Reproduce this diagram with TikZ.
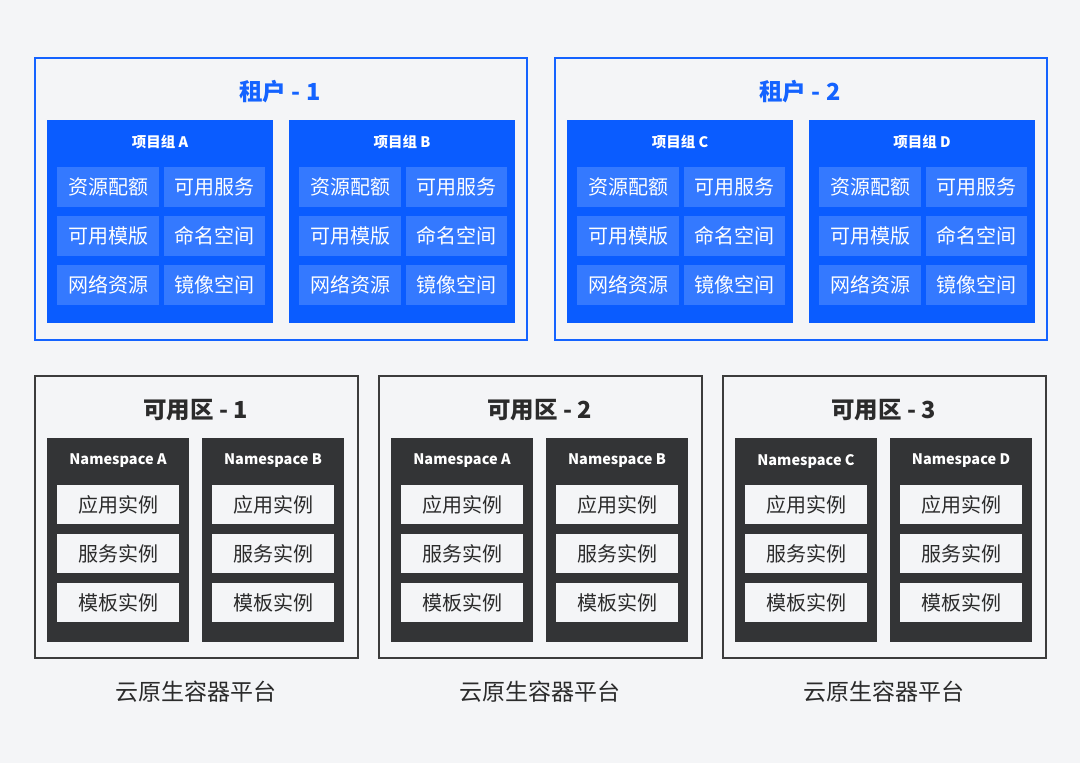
\documentclass[tikz,border=0pt]{standalone}
\usepackage{fontspec}
\setmainfont{Noto Sans CJK SC}
\usetikzlibrary{positioning}
\definecolor{pagebg}{HTML}{F4F5F7}
\definecolor{tenantblue}{HTML}{1463FF}
\definecolor{groupblue}{HTML}{0A5CFF}
\definecolor{cellblue}{HTML}{3479FF}
\definecolor{zonegray}{HTML}{3C3C3C}
\definecolor{nsdark}{HTML}{333436}
\definecolor{textdark}{HTML}{2B2B2B}
\tikzset{
  outer/.style   = {draw, line width=1.6pt, fill=pagebg, anchor=north west,
                    inner sep=0pt, minimum width=492pt, minimum height=282pt},
  tenant/.style  = {outer, draw=tenantblue},
  zone/.style    = {outer, draw=zonegray, minimum width=323pt},
  bigtitle/.style = {font=\fontsize{23.5}{23.5}\selectfont\bfseries},
  grp/.style     = {fill=groupblue, anchor=north west, inner sep=0pt,
                    minimum width=226pt, minimum height=203pt},
  ns/.style      = {fill=nsdark, anchor=north west, inner sep=0pt,
                    minimum width=142pt, minimum height=204pt},
  smalltitle/.style = {text=white, font=\fontsize{14.5}{14.5}\selectfont\bfseries},
  bluecell/.style = {fill=cellblue, text=white, anchor=north west, inner sep=0pt,
                    minimum width=102pt, minimum height=40pt,
                    font=\fontsize{20}{20}\selectfont},
  graycell/.style = {fill=pagebg, text=textdark, anchor=north west, inner sep=0pt,
                    minimum width=122pt, minimum height=39pt,
                    font=\fontsize{20}{20}\selectfont},
  platform/.style = {text=textdark, font=\fontsize{23}{23}\selectfont}
}
\begin{document}
\begin{tikzpicture}[x=1pt, y=-1pt]
  \fill[pagebg] (0,0) rectangle (1080,763);
  \useasboundingbox (0,0) rectangle (1080,763);

  % tenants
  \foreach \t/\tx/\ga/\gb in {1/34/A/B, 2/554/C/D} {
    \node[tenant] (tenant\t) at (\tx,57) {};
    \node[bigtitle, text=tenantblue] (tenant\t-title) at (\tx+246,92) {租户 - \t};
    \foreach \g/\gx in {\ga/13, \gb/255} {
      \node[grp] (grp\g) at (\tx+\gx,120) {};
      \node[smalltitle] (grp\g-title) at (\tx+\gx+113,142) {项目组 \g};
      \foreach \r/\ry/\la/\lb in {1/167/资源配额/可用服务, 2/216/可用模版/命名空间,
                                  3/265/网络资源/镜像空间} {
        \node[bluecell] (grp\g-\r-a) at (\tx+\gx+10,\ry) {\la};
        \node[bluecell, minimum width=101pt] (grp\g-\r-b) at (\tx+\gx+117,\ry) {\lb};
      }
    }
  }

  % zones
  \foreach \z/\zx/\na/\nb in {1/34/A/B, 2/378/A/B, 3/722/C/D} {
    \node[zone] (zone\z) at (\zx,375) {};
    \node[bigtitle, text=textdark] (zone\z-title) at (\zx+161.5,410) {可用区 - \z};
    \foreach \n/\nx/\nn in {1/13/\na, 2/168/\nb} {
      \node[ns] (ns\z-\n) at (\zx+\nx,438) {};
      \node[smalltitle] (ns\z-\n-title) at (\zx+\nx+71,461) {Namespace \nn};
      \foreach \r/\ry/\lab in {1/485/应用实例, 2/534/服务实例, 3/583/模板实例} {
        \node[graycell] (ns\z-\n-\r) at (\zx+\nx+10,\ry) {\lab};
      }
    }
    \node[platform] (plat\z) at (\zx+161.5,692) {云原生容器平台};
  }
\end{tikzpicture}
\end{document}
